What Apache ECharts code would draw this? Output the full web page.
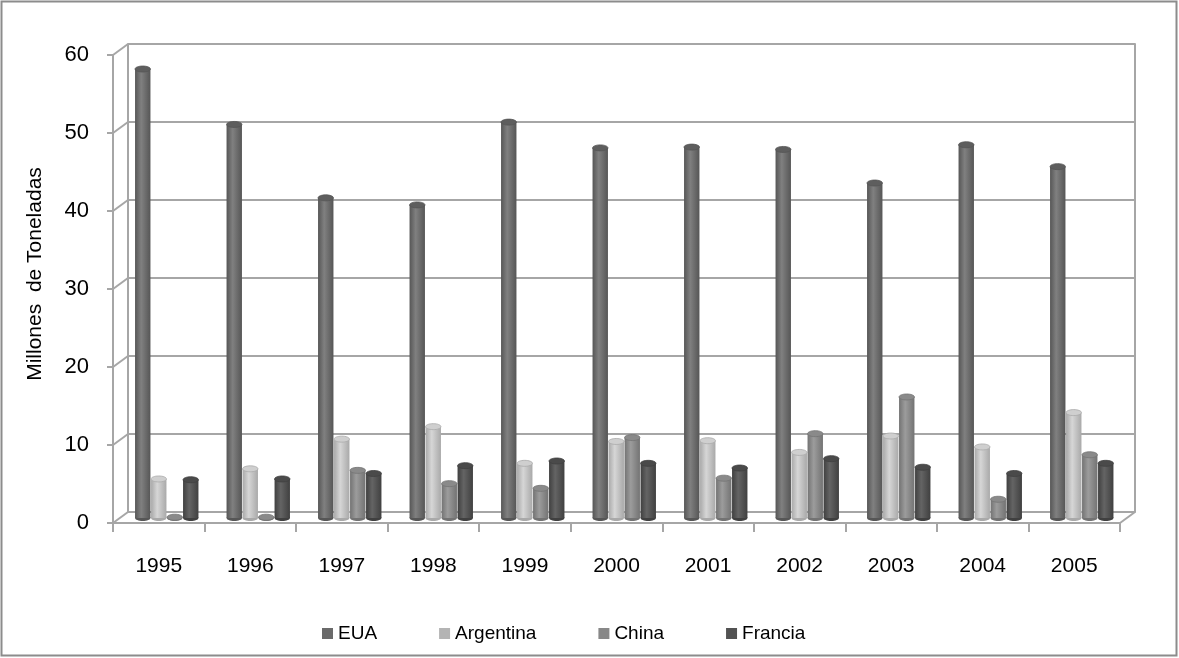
<!DOCTYPE html>
<html>
<head>
<meta charset="utf-8">
<script src="https://cdn.jsdelivr.net/npm/echarts@6/dist/echarts.min.js"></script>
<style>
html,body{margin:0;padding:0;background:#fff;}
#c{width:1179px;height:658px;}
</style>
</head>
<body>
<div id="c"></div>
<script>
var years = ['1995','1996','1997','1998','1999','2000','2001','2002','2003','2004','2005'];
var seriesNames = ['EUA','Argentina','China','Francia'];
var EUA = [57.5, 50.4, 41.0, 40.1, 50.7, 47.4, 47.5, 47.2, 42.9, 47.8, 45.0];
var Argentina = [5.0, 6.3, 10.1, 11.7, 7.0, 9.8, 9.9, 8.4, 10.5, 9.1, 13.5];
var China = [0.1, 0.1, 6.1, 4.4, 3.8, 10.3, 5.1, 10.8, 15.5, 2.4, 8.1];
var Francia = [4.9, 5.0, 5.7, 6.7, 7.3, 7.0, 6.4, 7.6, 6.5, 5.7, 7.0];
var yTicks = [0, 10, 20, 30, 40, 50, 60];
var yTitle = 'Millones  de Toneladas';

var legendColors = ['#6a6a6a', '#b4b4b4', '#888888', '#525252'];
// [edge, highlight, cap]
var shades = [
  ['#565656', '#808080', '#5e5e5e'],
  ['#a9a9a9', '#d6d6d6', '#cfcfcf'],
  ['#737373', '#9c9c9c', '#8a8a8a'],
  ['#404040', '#646464', '#4a4a4a']
];
var allData = [EUA, Argentina, China, Francia];

var wallColor = '#a6a6a6';
var FONT = '"Liberation Sans", Arial, sans-serif';

function cyl(idx) {
  var s = shades[idx];
  return function (params, api) {
    var cat = api.value(0), v = api.value(1);
    var base = api.coord([cat, 0]);
    var top = api.coord([cat, v]);
    var w = 16, cx = base[0] + (idx - 1.5) * w, rx = w / 2 - 0.3, ry = 3;
    var grad = new echarts.graphic.LinearGradient(0, 0, 1, 0, [
      {offset: 0, color: s[0]}, {offset: 0.4, color: s[1]}, {offset: 1, color: s[0]}
    ]);
    return {
      type: 'group',
      children: [
        {type: 'ellipse', shape: {cx: cx, cy: base[1], rx: rx, ry: ry}, style: {fill: s[0]}},
        {type: 'rect', shape: {x: cx - rx, y: top[1], width: 2 * rx, height: Math.max(0, base[1] - top[1])}, style: {fill: grad}},
        {type: 'ellipse', shape: {cx: cx, cy: top[1], rx: rx, ry: ry}, style: {fill: s[2], stroke: s[0], lineWidth: 0.8}}
      ]
    };
  };
}

var barSeries = seriesNames.map(function (name, i) {
  return {
    name: name,
    type: 'custom',
    xAxisIndex: 2,
    yAxisIndex: 3,
    renderItem: cyl(i),
    itemStyle: {color: legendColors[i]},
    encode: {x: 0, y: 1},
    data: years.map(function (y, k) { return [k, allData[i][k]]; }),
    z: 5
  };
});

var wallSeries = {
  type: 'custom',
  xAxisIndex: 0,
  yAxisIndex: 0,
  silent: true,
  z: 1,
  encode: {x: 0, y: 1},
  data: yTicks.map(function (v) { return [0, v]; }),
  renderItem: function (params, api) {
    var cs = params.coordSys;
    var p = api.coord([0, api.value(1)]);
    var ch = [{type: 'line', shape: {x1: cs.x, y1: p[1], x2: cs.x - 15, y2: p[1] + 11},
               style: {stroke: wallColor, lineWidth: 2}}];
    if (api.value(1) === 0) {
      ch.push({type: 'line', shape: {x1: cs.x + cs.width, y1: p[1], x2: cs.x + cs.width - 15, y2: p[1] + 11},
               style: {stroke: wallColor, lineWidth: 2}});
    }
    return {type: 'group', children: ch};
  }
};

var chart = echarts.init(document.getElementById('c'));
chart.setOption({
  backgroundColor: '#fff',
  animation: false,
  textStyle: {fontFamily: FONT},
  graphic: [
    {type: 'rect', shape: {x: 1.5, y: 1.5, width: 1175, height: 654}, style: {fill: 'none', stroke: '#8c8c8c', lineWidth: 2}, z: 0},
    {type: 'text', x: 35, y: 274, rotation: Math.PI / 2,
     style: {text: yTitle, fontSize: 21, fontFamily: FONT, fill: '#000', textAlign: 'center', textVerticalAlign: 'middle'}}
  ],
  legend: {
    left: 317,
    top: 619,
    itemWidth: 11,
    itemHeight: 11,
    itemGap: 62,
    icon: 'rect',
    textStyle: {fontSize: 19, color: '#000', fontFamily: FONT},
    data: seriesNames
  },
  grid: [
    {left: 128, right: 44, top: 44, bottom: 146},
    {left: 113, right: 59, top: 55, bottom: 135},
    {left: 121, right: 51.5, top: 49.5, bottom: 140}
  ],
  xAxis: [
    {gridIndex: 0, type: 'category', data: years, axisLine: {show: false}, axisTick: {show: false}, axisLabel: {show: false}},
    {gridIndex: 1, type: 'category', data: years,
     axisLine: {show: true, lineStyle: {color: wallColor, width: 2}},
     axisTick: {show: true, length: 9, interval: 0, lineStyle: {color: wallColor, width: 2}},
     axisLabel: {show: true, interval: 0, fontSize: 21, color: '#000', margin: 33, fontFamily: FONT}},
    {gridIndex: 2, type: 'category', data: years, show: false}
  ],
  yAxis: [
    {gridIndex: 0, type: 'value', min: 0, max: 60, interval: 10,
     axisLine: {show: true, lineStyle: {color: wallColor, width: 2}},
     axisTick: {show: false}, axisLabel: {show: false},
     splitLine: {show: true, lineStyle: {color: wallColor, width: 2}}},
    {gridIndex: 0, type: 'value', min: 0, max: 60, interval: 10, position: 'right',
     axisLine: {show: true, lineStyle: {color: wallColor, width: 2}},
     axisTick: {show: false}, axisLabel: {show: false}, splitLine: {show: false}},
    {gridIndex: 1, type: 'value', min: 0, max: 60, interval: 10,
     axisLine: {show: true, lineStyle: {color: wallColor, width: 2}},
     axisTick: {show: true, length: 6, lineStyle: {color: wallColor, width: 2}},
     axisLabel: {show: true, fontSize: 22, color: '#000', margin: 24, fontFamily: FONT},
     splitLine: {show: false}},
    {gridIndex: 2, type: 'value', min: 0, max: 60, interval: 10, show: false, splitLine: {show: false}}
  ],
  series: [wallSeries].concat(barSeries)
});
</script>
</body>
</html>
